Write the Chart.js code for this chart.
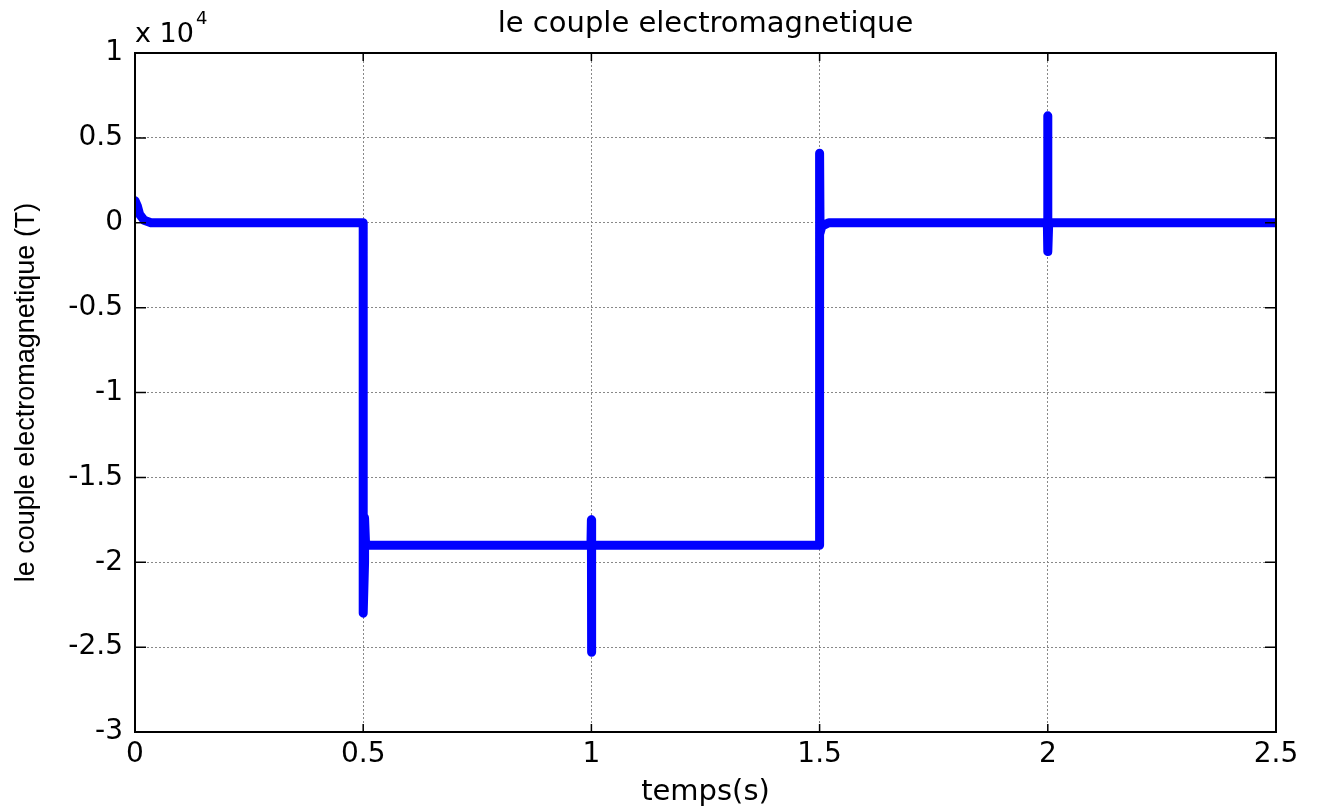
<!DOCTYPE html>
<html>
<head>
<meta charset="utf-8">
<script src="https://cdn.jsdelivr.net/npm/chart.js@4.4.1/dist/chart.umd.min.js"></script>
<style>
  html, body { margin: 0; padding: 0; background: #fff; }
  #wrap { width: 1320px; height: 810px; }
</style>
</head>
<body>
<div id="wrap"><canvas id="torqueChart" width="1320" height="810"></canvas></div>
<script>
// temps (s)
const timeVals = [0, 0.005, 0.01, 0.02, 0.035, 0.499, 0.5, 0.5, 0.503, 0.503, 0.505, 0.51,
  0.999, 1.0, 1.0, 1.001, 1.002, 1.499, 1.5, 1.5, 1.501, 1.505, 1.52,
  1.999, 2.0, 2.0, 2.002, 2.5];
// couple electromagnetique (N.m)
const torqueVals = [1300, 1000, 500, 150, 0, 0, 0, -23000, -20000, -17400, -18800, -19000,
  -19000, -17500, -25300, -19000, -19000, -19000, -19000, 4100, -600, -200, 0,
  0, 6300, -1700, 0, 0];

const xTicks = [0, 0.5, 1, 1.5, 2, 2.5];
const yTicks = [-30000, -25000, -20000, -15000, -10000, -5000, 0, 5000, 10000];

const points = timeVals.map((t, i) => ({ x: t, y: torqueVals[i] }));

const wideFont = "'DejaVu Sans', sans-serif";
const narrowFont = "'Liberation Sans', Arial, sans-serif";

// box + inward tick marks + "x 10^4" label, matlab style
const matlabAxes = {
  id: "matlabAxes",
  afterDraw(chart) {
    const ctx = chart.ctx;
    const a = chart.chartArea;
    const xs = chart.scales.x, ys = chart.scales.y;
    ctx.save();
    ctx.strokeStyle = "#000";
    ctx.lineWidth = 2;
    ctx.strokeRect(a.left, a.top, a.right - a.left, a.bottom - a.top);
    ctx.lineWidth = 1.5;
    ctx.beginPath();
    xTicks.forEach(v => {
      const px = xs.getPixelForValue(v);
      ctx.moveTo(px, a.bottom); ctx.lineTo(px, a.bottom - 8);
      ctx.moveTo(px, a.top); ctx.lineTo(px, a.top + 8);
    });
    yTicks.forEach(v => {
      const py = ys.getPixelForValue(v);
      ctx.moveTo(a.left, py); ctx.lineTo(a.left + 11, py);
      ctx.moveTo(a.right, py); ctx.lineTo(a.right - 11, py);
    });
    ctx.stroke();

    ctx.fillStyle = "#000";
    ctx.textBaseline = "alphabetic";
    ctx.textAlign = "left";
    ctx.font = "27px " + wideFont;
    ctx.fillText("x 10", a.left, a.top - 11);
    const w = ctx.measureText("x 10").width;
    ctx.font = "18px " + wideFont;
    ctx.fillText("4", a.left + w + 2, a.top - 29);
    ctx.restore();
  }
};

new Chart("torqueChart", {
  type: "line",
  data: {
    datasets: [{
      data: points,
      borderColor: "#0000ff",
      borderWidth: 9,
      borderCapStyle: "round",
      borderJoinStyle: "round",
      pointRadius: 0,
      fill: false,
      tension: 0
    }]
  },
  options: {
    responsive: false,
    animation: false,
    layout: { padding: { top: 0, right: 44, bottom: 0, left: 0 } },
    plugins: {
      legend: { display: false },
      tooltip: { enabled: false },
      title: {
        display: true,
        fullSize: false,
        text: "le couple electromagnetique",
        color: "#000",
        font: { family: wideFont, size: 29, weight: "normal" },
        padding: { top: 7, bottom: 11.2 }
      }
    },
    scales: {
      x: {
        type: "linear",
        min: 0,
        max: 2.5,
        afterBuildTicks: s => { s.ticks = xTicks.map(v => ({ value: v })); },
        afterFit: s => { s.height = 78; },
        ticks: {
          color: "#000",
          padding: 6,
          maxRotation: 0,
          font: { family: wideFont, size: 28 },
          callback: v => String(v)
        },
        grid: {
          color: "#888",
          lineWidth: 1,
          drawTicks: false
        },
        border: { display: false, dash: [2, 2] },
        title: {
          display: true,
          text: "temps(s)",
          color: "#000",
          font: { family: wideFont, size: 29 },
          padding: { top: 0, bottom: 0 }
        }
      },
      y: {
        min: -30000,
        max: 10000,
        afterBuildTicks: s => { s.ticks = yTicks.map(v => ({ value: v })); },
        afterFit: s => { s.width = 135; },
        ticks: {
          color: "#000",
          padding: 12,
          font: { family: wideFont, size: 28 },
          callback: v => String(v / 10000)
        },
        grid: {
          color: "#888",
          lineWidth: 1,
          drawTicks: false
        },
        border: { display: false, dash: [2, 2] },
        title: {
          display: true,
          text: "le couple electromagnetique (T)",
          color: "#000",
          font: { family: narrowFont, size: 27 },
          padding: { top: 10, bottom: 0 }
        }
      }
    }
  },
  plugins: [matlabAxes]
});
</script>
</body>
</html>
